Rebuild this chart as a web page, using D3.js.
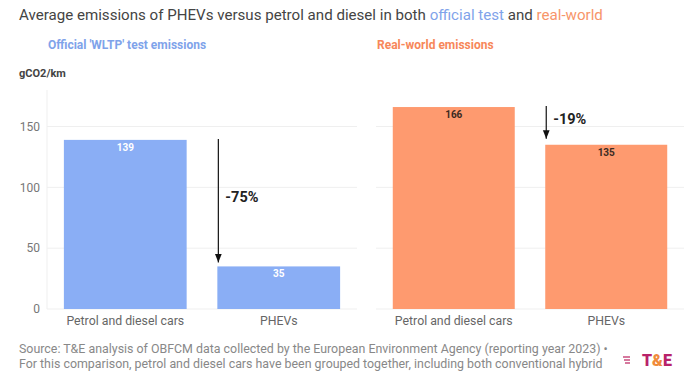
<!DOCTYPE html>
<html lang="en">
<head>
<meta charset="UTF-8">
<title>PHEV emissions</title>
<script src="https://d3js.org/d3.v7.min.js"></script>
<style>
  body { margin: 0; background: #fff; font-family: Roboto, Arial, sans-serif; }
  svg text { font-family: Roboto, Arial, sans-serif; }
</style>
</head>
<body>
<div id="chart"></div>
<script>
const categories = ["Petrol and diesel cars", "PHEVs"];
const officialValues = [139, 35];
const realValues = [166, 135];
const yTicks = [0, 50, 100, 150];
const changeLabels = ["-75%", "-19%"];

const W = 700, H = 372;
const blue = "#8aaef5", orange = "#fe9a6f";

const svg = d3.select("#chart").append("svg")
  .attr("width", W).attr("height", H);

// subtitle
const sub = svg.append("text").attr("x", 19).attr("y", 20)
  .attr("font-size", 15.1).attr("fill", "#444");
sub.append("tspan").text("Average emissions of PHEVs versus petrol and diesel in both ");
sub.append("tspan").attr("fill", "#7fa3ea").text("official test");
sub.append("tspan").text(" and ");
sub.append("tspan").attr("fill", "#f7956a").text("real-world");

svg.append("text").attr("x", 19).attr("y", 77)
  .attr("font-size", 11).attr("font-weight", "bold").attr("fill", "#444")
  .text("gCO2/km");

const y = d3.scaleLinear().domain([0, 180]).range([309, 90]);

const panels = [
  { title: "Official 'WLTP' test emissions", color: blue, titleColor: "#7fa3ea",
    values: officialValues, range: [47, 357], labelColor: "#fff", change: changeLabels[0] },
  { title: "Real-world emissions", color: orange, titleColor: "#f7875a",
    values: realValues, range: [376, 684], labelColor: "#3b2a22", change: changeLabels[1] }
];

// y axis labels
svg.append("g").selectAll("text").data(yTicks).join("text")
  .attr("x", 40).attr("y", d => y(d)).attr("dy", "0.35em")
  .attr("text-anchor", "end").attr("font-size", 12).attr("fill", "#777")
  .text(d => d);

svg.append("defs").append("marker")
  .attr("id", "arrow").attr("viewBox", "0 0 10 10")
  .attr("refX", 10).attr("refY", 5)
  .attr("markerWidth", 7).attr("markerHeight", 7)
  .attr("orient", "auto")
  .append("path").attr("d", "M0,1 L10,5 L0,9 Z").attr("fill", "#111");

panels.forEach((p, pi) => {
  const x = d3.scaleBand().domain(categories).range(p.range)
    .paddingInner(0.2).paddingOuter(0.11);
  const g = svg.append("g");

  g.append("text").attr("x", p.range[0] + 1).attr("y", 49)
    .attr("font-size", 12).attr("font-weight", "bold").attr("fill", p.titleColor)
    .text(p.title);

  // gridlines
  g.selectAll("line.grid").data(yTicks).join("line")
    .attr("x1", p.range[0]).attr("x2", p.range[1])
    .attr("y1", d => y(d)).attr("y2", d => y(d))
    .attr("stroke", "#efefef").attr("stroke-width", 1);
  if (pi === 0) {
    g.append("line").attr("x1", p.range[0]).attr("x2", p.range[0])
      .attr("y1", 90).attr("y2", 309).attr("stroke", "#efefef");
  }

  g.selectAll("rect").data(p.values).join("rect")
    .attr("x", (d, i) => x(categories[i]))
    .attr("y", d => y(d))
    .attr("width", x.bandwidth())
    .attr("height", d => y(0) - y(d))
    .attr("fill", p.color);

  g.selectAll("text.val").data(p.values).join("text")
    .attr("class", "val")
    .attr("x", (d, i) => x(categories[i]) + x.bandwidth() / 2)
    .attr("y", d => y(d) + 11)
    .attr("text-anchor", "middle").attr("font-size", 10).attr("font-weight", "bold")
    .attr("fill", p.labelColor)
    .text(d => d);

  g.selectAll("text.cat").data(categories).join("text")
    .attr("class", "cat")
    .attr("x", d => x(d) + x.bandwidth() / 2)
    .attr("y", 325)
    .attr("text-anchor", "middle").attr("font-size", 12.3).attr("fill", "#666")
    .text(d => d);

  // change arrow
  const ax = x(categories[1]) + 1;
  const top = y(p.values[0]) - 1;
  const bottom = y(p.values[1]) - (pi === 0 ? 4 : 6);
  g.append("line").attr("x1", ax).attr("x2", ax)
    .attr("y1", top).attr("y2", bottom)
    .attr("stroke", "#111").attr("stroke-width", 1.2)
    .attr("marker-end", "url(#arrow)");
  g.append("text")
    .attr("x", ax + 7)
    .attr("y", pi === 0 ? 197 : 119).attr("dy", "0.35em")
    .attr("font-size", 14.5).attr("font-weight", "bold").attr("fill", "#222")
    .text(p.change);
});

// source
const src = svg.append("g").attr("font-size", 12.4).attr("fill", "#888");
src.append("text").attr("x", 19).attr("y", 353)
  .text("Source: T&E analysis of OBFCM data collected by the European Environment Agency (reporting year 2023) •");
src.append("text").attr("x", 19).attr("y", 368)
  .text("For this comparison, petrol and diesel cars have been grouped together, including both conventional hybrid");

// logo
const logo = svg.append("g");
[0, 3, 6].forEach((dy, i) => {
  logo.append("line").attr("x1", 623 + i).attr("x2", 630)
    .attr("y1", 357 + dy).attr("y2", 357 + dy)
    .attr("stroke", "#c0306a").attr("stroke-width", 1.3);
});
const lt = logo.append("text").attr("x", 642).attr("y", 366)
  .attr("font-size", 16).attr("font-weight", "900").attr("fill", "#b8226a");
lt.append("tspan").text("T");
lt.append("tspan").attr("fill", "#f08a3a").text("&");
lt.append("tspan").text("E");
</script>
</body>
</html>
